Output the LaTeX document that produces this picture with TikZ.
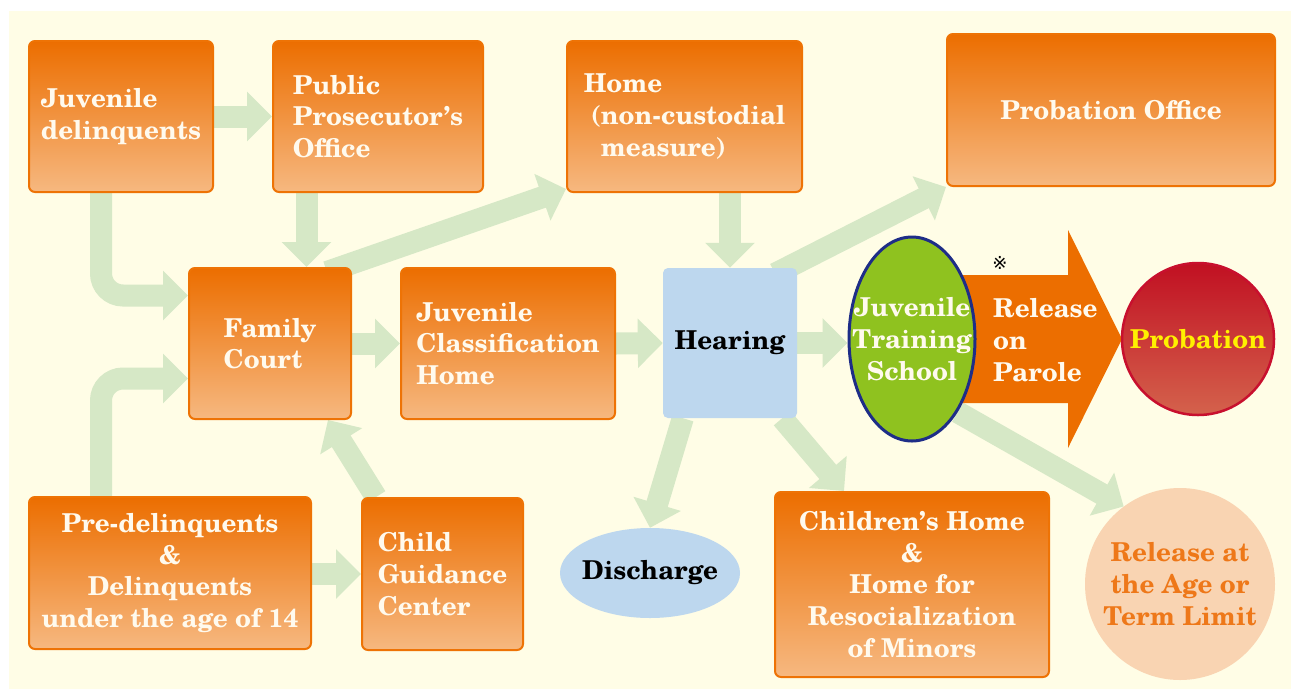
\documentclass[tikz,border=0pt]{standalone}
\usepackage{fontspec}
\setmainfont{texgyreschola}[Extension=.otf,UprightFont=*-regular,BoldFont=*-bold,ItalicFont=*-italic,BoldItalicFont=*-bolditalic]
\newfontfamily\djv{DejaVu Sans}
\usetikzlibrary{arrows.meta,shapes.geometric,calc}
\pgfdeclarelayer{back}
\pgfsetlayers{back,main}
\definecolor{bgc}{RGB}{255,253,230}
\definecolor{gr}{RGB}{214,232,198}
\definecolor{ortop}{RGB}{236,110,0}
\definecolor{orbot}{RGB}{246,184,128}
\definecolor{orline}{RGB}{238,115,5}
\definecolor{txt}{RGB}{255,250,238}
\definecolor{hb}{RGB}{189,215,238}
\definecolor{jgreen}{RGB}{143,194,31}
\definecolor{jblue}{RGB}{30,45,135}
\definecolor{ptop}{RGB}{193,16,34}
\definecolor{pbot}{RGB}{212,98,76}
\definecolor{pline}{RGB}{200,16,46}
\definecolor{yel}{RGB}{255,240,0}
\definecolor{peach}{RGB}{249,212,178}
\definecolor{otxt}{RGB}{238,120,25}
\tikzset{
  lbl/.style={font=\fontsize{26}{31.7}\selectfont\bfseries, inner sep=0pt},
  obox/.style={lbl, draw=orline, line width=2pt, rounded corners=6pt,
    top color=ortop, bottom color=orbot, text=txt, align=left},
  round/.style={lbl, inner sep=-30pt},
  garrow/.style={draw=gr, line width=22pt, -{Triangle[length=25pt,width=48pt]}},
}
\begin{document}
\begin{tikzpicture}[x=1pt,y=-1pt]
\useasboundingbox (0,0) rectangle (1293,689);
% big orange arrow (Release on Parole)
\fill[ortop] (955,275) -- (1068,275) -- (1068,230) -- (1122,339) -- (1068,448) -- (1068,403) -- (955,403) -- cycle;
% nodes
\node[obox, minimum width=184pt, minimum height=151pt] (jd) at (121,116.5) {Juvenile\\delinquents};
\node[obox, minimum width=210pt, minimum height=151pt] (ppo) at (378,116.5) {Public\\Prosecutor’s\\Office};
\node[obox, minimum width=235pt, minimum height=151pt] (home) at (684.5,116.5) {Home\\\hspace*{7pt}(non-custodial\\\hspace*{17pt}measure)};
\node[obox, align=center, minimum width=328pt, minimum height=152pt] (po) at (1111,110) {Probation Office};
\node[obox, minimum width=162pt, minimum height=151pt] (fc) at (270,343.5) {Family\\Court};
\node[obox, minimum width=214pt, minimum height=151pt] (jch) at (508,343.5) {Juvenile\\Classification\\Home};
\node[lbl, fill=hb, rounded corners=5pt, minimum width=134pt, minimum height=150pt] (hear) at (730,343) {Hearing};
\node[round, ellipse, draw=jblue, line width=3pt, fill=jgreen, text=txt, align=center, minimum width=126pt, minimum height=204pt] (jts) at (912,339) {Juvenile\\Training\\School};
\node[lbl, text=txt, align=left, anchor=west] (rop) at (993,340) {Release\\on\\Parole};
\node[font=\djv\fontsize{18}{18}\selectfont, inner sep=0pt] (mark) at (1000,263) {※};
\node[round, circle, draw=pline, line width=2.5pt, top color=ptop, bottom color=pbot, text=yel, minimum size=152pt] (prob) at (1198,339) {Probation};
\node[obox, align=center, minimum width=282pt, minimum height=152pt] (pre) at (170,573) {Pre-delinquents\\\&\\Delinquents\\under the age of 14};
\node[obox, minimum width=161pt, minimum height=152pt] (cgc) at (442.5,574) {Child\\Guidance\\Center};
\node[round, ellipse, fill=hb, minimum width=180pt, minimum height=90pt] (dis) at (650,573) {Discharge};
\node[obox, align=center, minimum width=274pt, minimum height=185pt] (chh) at (912,584.5) {Children’s Home\\\&\\Home for\\Resocialization\\of Minors};
\node[round, ellipse, fill=peach, text=otxt, align=center, minimum width=190pt, minimum height=192pt] (rel) at (1180,584) {Release at\\the Age or\\Term Limit};
% background and connectors
\begin{pgfonlayer}{back}
\fill[white] (0,0) rectangle (1293,689);
\fill[bgc] (9,11) rectangle (1291,689);
\draw[garrow] (jd.east) -- (ppo.west);
\draw[garrow, rounded corners=22pt] ([xshift=-20pt]jd.south) |- ([yshift=48pt]fc.west);
\draw[garrow] ([xshift=-71.5pt]ppo.south) -- ([xshift=-71.5pt]ppo.south |- fc.north);
\draw[garrow] ([xshift=-25pt,yshift=-5pt]fc.north east) -- ([yshift=4pt]home.south west);
\draw[garrow] (fc.east) -- (jch.west);
\draw[garrow, rounded corners=22pt] ([xshift=-69pt]pre.north) |- ([yshift=-35pt]fc.west);
\draw[garrow] (pre.east |- cgc.west) -- (cgc.west);
\draw[garrow] ([xshift=15pt]cgc.north west) -- ([xshift=-24pt]fc.south east);
\draw[garrow] (jch.east) -- (hear.west);
\draw[garrow] ([xshift=45.5pt]home.south) -- ([xshift=45.5pt]home.south |- hear.north);
\draw[garrow] ([xshift=-22pt,yshift=-6pt]hear.north east) -- (po.south west);
\draw[garrow] (hear.east) -- (hear.east -| jts.west);
\draw[garrow] ([xshift=20pt]hear.south west) -- (dis.north);
\draw[garrow] ([xshift=-15pt]hear.south east) -- ([xshift=70pt]chh.north west);
\draw[garrow] (jts.south east) -- (rel.126);
\end{pgfonlayer}
\end{tikzpicture}
\end{document}
